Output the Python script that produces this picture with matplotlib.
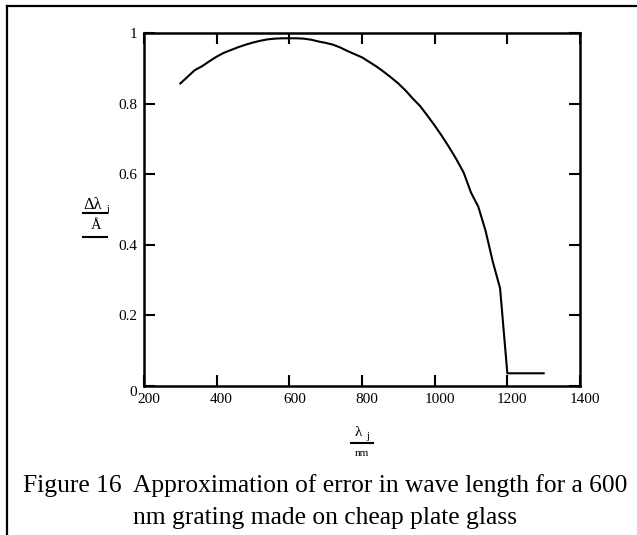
import matplotlib
matplotlib.use("Agg")
import matplotlib.pyplot as plt
import matplotlib.transforms as mtransforms
from matplotlib.lines import Line2D

plt.rcParams['font.family'] = ['Liberation Serif', 'DejaVu Serif']

# wavelength (nm) and approximate error (Angstrom)
wavelength = [300, 320, 340, 360, 380, 400, 420, 440, 460, 480, 500, 520, 540,
              560, 580, 600, 620, 640, 660, 680, 700, 720, 740, 760, 780, 800,
              820, 840, 860, 880, 900, 920, 940, 960, 980, 1000, 1020, 1040,
              1060, 1080, 1100, 1120, 1140, 1160, 1180, 1200, 1300]
dlam = [0.857, 0.876, 0.895, 0.906, 0.920, 0.933, 0.944, 0.952, 0.960, 0.967,
        0.973, 0.978, 0.982, 0.984, 0.985, 0.985, 0.985, 0.984, 0.981, 0.976,
        0.972, 0.967, 0.959, 0.949, 0.940, 0.931, 0.918, 0.905, 0.890, 0.874,
        0.857, 0.837, 0.814, 0.793, 0.766, 0.738, 0.708, 0.676, 0.642, 0.604,
        0.548, 0.508, 0.440, 0.352, 0.277, 0.036, 0.036]

xticks = [200, 400, 600, 800, 1000, 1200, 1400]
yticks = [0, 0.2, 0.4, 0.6, 0.8, 1]
ytick_labels = ['0', '0.2', '0.4', '0.6', '0.8', '1']
caption = ["Figure 16  Approximation of error in wave length for a 600",
           "nm grating made on cheap plate glass"]

W, H = 637, 535
fig = plt.figure(figsize=(W / 100, H / 100), dpi=100)
ax = fig.add_axes([144 / W, 1 - 386 / H, (580 - 144) / W, (386 - 33) / H])

ax.plot(wavelength, dlam, color='black', lw=1.5)
ax.set_xlim(200, 1400)
ax.set_ylim(0, 1)
ax.set_xticks(xticks)
ax.set_xticklabels([str(v) for v in xticks])
ax.set_yticks(yticks)
ax.set_yticklabels(ytick_labels)
ax.tick_params(direction='in', length=8, width=1.5, labelsize=11, pad=5,
               top=True, right=True)
for s in ax.spines.values():
    s.set_linewidth(1.8)

# x labels sit a little right of their ticks, the bottom "0" a little low
shift_x = mtransforms.ScaledTranslation(5 / 100, 0, fig.dpi_scale_trans)
for lab in ax.get_xticklabels():
    lab.set_transform(lab.get_transform() + shift_x)
shift_y = mtransforms.ScaledTranslation(0, -5 / 100, fig.dpi_scale_trans)
y0 = ax.get_yticklabels()[0]
y0.set_transform(y0.get_transform() + shift_y)

# y-axis label drawn as a stacked fraction
fig.text(83 / W, 1 - 209 / H, 'Δλ', fontsize=12, va='baseline', ha='left')
fig.text(106 / W, 1 - 212 / H, 'j', fontsize=8, va='baseline', ha='left')
fig.add_artist(Line2D([83 / W, 107 / W], [1 - 213 / H, 1 - 213 / H],
                      color='black', lw=1.5))
fig.text(96 / W, 1 - 229 / H, 'Å', fontsize=10.5, va='baseline', ha='center')
fig.add_artist(Line2D([83 / W, 107 / W], [1 - 237 / H, 1 - 237 / H],
                      color='black', lw=1.5))

# x-axis label
fig.text(358 / W, 1 - 436 / H, 'λ', fontsize=11, va='baseline', ha='center')
fig.text(368 / W, 1 - 439 / H, 'j', fontsize=8, va='baseline', ha='center')
fig.add_artist(Line2D([351 / W, 373 / W], [1 - 443 / H, 1 - 443 / H],
                      color='black', lw=1.5))
fig.text(362 / W, 1 - 456 / H, 'nm', fontsize=8, va='baseline', ha='center')

# caption
fig.text(325 / W, 1 - 486 / H, caption[0], fontsize=18.4, ha='center', va='center')
fig.text(325 / W, 1 - 518 / H, caption[1], fontsize=18.4, ha='center', va='center')

# frame around the figure
fig.add_artist(Line2D([7 / W, 7 / W], [0, 1 - 6 / H], color='black', lw=1.6))
fig.add_artist(Line2D([7 / W, 1], [1 - 6 / H, 1 - 6 / H], color='black', lw=1.6))

fig.savefig('out.png', dpi=100)
